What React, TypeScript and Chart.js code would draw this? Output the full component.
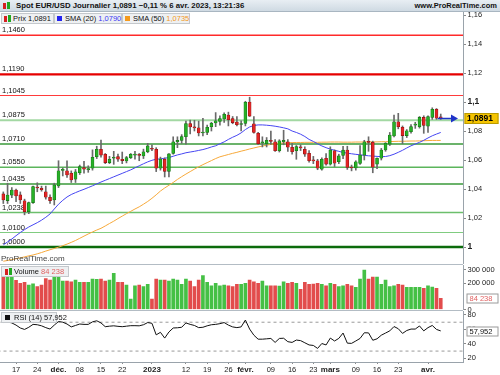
import React, { useEffect, useRef } from "react";
import { Chart, registerables } from "chart.js";

Chart.register(...registerables);

const FONT = '"Liberation Sans", Arial, sans-serif';

// ---------- data ----------
const dates = [
  "14/11","15/11","16/11","17/11","18/11","21/11","22/11","23/11","24/11","25/11","28/11","29/11","30/11",
  "01/12","02/12","05/12","06/12","07/12","08/12","09/12","12/12","13/12","14/12","15/12","16/12","19/12","20/12","21/12","22/12","23/12","26/12","27/12","28/12","29/12","30/12",
  "02/01","03/01","04/01","05/01","06/01","09/01","10/01","11/01","12/01","13/01","16/01","17/01","18/01","19/01","20/01","23/01","24/01","25/01","26/01","27/01","30/01","31/01",
  "01/02","02/02","03/02","06/02","07/02","08/02","09/02","10/02","13/02","14/02","15/02","16/02","17/02","20/02","21/02","22/02","23/02","24/02","27/02","28/02",
  "01/03","02/03","03/03","06/03","07/03","08/03","09/03","10/03","13/03","14/03","15/03","16/03","17/03","20/03","21/03","22/03","23/03","24/03","27/03","28/03","29/03","30/03","31/03",
  "03/04","04/04","05/04","06/04",
];

const opens = [
  1.0366,1.0320,1.0358,1.0393,1.0359,1.0319,1.0243,1.0306,1.0412,1.0405,1.0381,1.0343,1.0324,
  1.0421,1.0528,1.0526,1.0508,1.0467,1.0512,1.0547,1.0534,1.0543,1.0623,1.0674,1.0639,1.0582,1.0612,1.0623,1.0605,1.0593,1.0616,1.0634,1.0637,1.0628,1.0657,
  1.0681,1.0674,1.0543,1.0605,1.0522,1.0646,1.0726,1.0735,1.0761,1.0852,1.0828,1.0822,1.0786,1.0790,1.0830,1.0855,1.0866,1.0883,1.0910,1.0886,1.0862,1.0845,
  1.0853,1.1000,1.0850,1.0784,1.0718,1.0712,1.0736,1.0726,1.0664,1.0726,1.0726,1.0688,1.0664,1.0688,1.0674,1.0646,1.0598,1.0595,1.0536,1.0612,
  1.0572,1.0664,1.0588,1.0632,1.0669,1.0548,1.0545,1.0577,1.0634,1.0725,1.0722,1.0572,1.0612,1.0669,1.0710,1.0766,1.0864,1.0826,1.0768,1.0795,1.0840,1.0830,1.0894,
  1.0834,1.0894,1.0950,1.0897,
];
const highs = [
  1.0380,1.0440,1.0410,1.0400,1.0380,1.0330,1.0310,1.0420,1.0443,1.0420,1.0420,1.0360,1.0440,
  1.0595,1.0545,1.0595,1.0525,1.0535,1.0565,1.0590,1.0560,1.0670,1.0695,1.0738,1.0645,1.0625,1.0660,1.0640,1.0655,1.0625,1.0645,1.0660,1.0645,1.0675,1.0715,
  1.0705,1.0685,1.0620,1.0615,1.0645,1.0760,1.0760,1.0775,1.0868,1.0875,1.0874,1.0868,1.0887,1.0840,1.0860,1.0927,1.0905,1.0925,1.0930,1.0900,1.0900,1.0870,
  1.1005,1.1033,1.0900,1.0790,1.0760,1.0755,1.0800,1.0740,1.0740,1.0805,1.0740,1.0715,1.0700,1.0705,1.0690,1.0665,1.0625,1.0605,1.0615,1.0645,
  1.0691,1.0670,1.0640,1.0695,1.0695,1.0565,1.0595,1.0700,1.0736,1.0760,1.0730,1.0615,1.0680,1.0720,1.0790,1.0910,1.0922,1.0835,1.0810,1.0845,1.0860,1.0900,1.0905,
  1.0905,1.0960,1.0955,1.0917,
];
const lows = [
  1.0300,1.0300,1.0340,1.0312,1.0300,1.0222,1.0230,1.0300,1.0381,1.0385,1.0330,1.0300,1.0290,
  1.0410,1.0490,1.0480,1.0445,1.0445,1.0500,1.0510,1.0515,1.0530,1.0610,1.0620,1.0575,1.0575,1.0570,1.0590,1.0575,1.0580,1.0610,1.0605,1.0595,1.0610,1.0650,
  1.0665,1.0520,1.0530,1.0483,1.0483,1.0640,1.0685,1.0715,1.0710,1.0780,1.0800,1.0766,1.0766,1.0775,1.0800,1.0830,1.0840,1.0860,1.0835,1.0850,1.0835,1.0800,
  1.0835,1.0900,1.0785,1.0706,1.0690,1.0690,1.0708,1.0660,1.0655,1.0705,1.0660,1.0640,1.0605,1.0665,1.0625,1.0585,1.0575,1.0533,1.0530,1.0565,
  1.0565,1.0555,1.0575,1.0610,1.0535,1.0525,1.0530,1.0570,1.0600,1.0660,1.0512,1.0540,1.0600,1.0660,1.0700,1.0760,1.0815,1.0712,1.0755,1.0785,1.0818,1.0820,1.0784,
  1.0790,1.0880,1.0880,1.0880,
];
const closes = [
  1.0324,1.0358,1.0393,1.0352,1.0324,1.0243,1.0306,1.0416,1.0407,1.0395,1.0343,1.0320,1.0428,
  1.0526,1.0532,1.0497,1.0462,1.0519,1.0554,1.0536,1.0538,1.0619,1.0674,1.0634,1.0582,1.0605,1.0618,1.0605,1.0596,1.0616,1.0639,1.0637,1.0632,1.0657,1.0697,
  1.0674,1.0543,1.0607,1.0522,1.0642,1.0726,1.0735,1.0761,1.0852,1.0828,1.0822,1.0786,1.0792,1.0826,1.0853,1.0870,1.0886,1.0915,1.0878,1.0858,1.0843,1.0850,
  1.0998,1.0903,1.0790,1.0712,1.0722,1.0736,1.0728,1.0664,1.0733,1.0735,1.0688,1.0657,1.0692,1.0684,1.0641,1.0595,1.0594,1.0543,1.0605,1.0572,
  1.0669,1.0578,1.0628,1.0668,1.0548,1.0545,1.0588,1.0634,1.0726,1.0722,1.0550,1.0612,1.0669,1.0715,1.0772,1.0864,1.0830,1.0768,1.0802,1.0830,1.0843,1.0894,1.0839,
  1.0899,1.0950,1.0888,1.0891,
];

const sma20 = [
  1.0015,1.0035,1.0055,1.0078,1.0100,1.0120,1.0138,1.0153,1.0168,1.0185,1.0205,1.0228,1.0262,
  1.0295,1.0322,1.0345,1.0362,1.0375,1.0387,1.0398,1.0410,1.0422,1.0435,1.0448,1.0460,1.0472,1.0484,1.0496,1.0508,1.0520,1.0532,1.0546,1.0560,1.0574,1.0587,
  1.0598,1.0605,1.0608,1.0612,1.0617,1.0626,1.0635,1.0642,1.0650,1.0655,1.0660,1.0666,1.0672,1.0680,1.0690,1.0698,1.0712,1.0725,1.0742,1.0757,1.0770,1.0787,
  1.0810,1.0828,1.0838,1.0842,1.0842,1.0840,1.0837,1.0833,1.0828,1.0822,1.0815,1.0800,1.0790,1.0778,1.0762,1.0742,1.0728,1.0712,1.0697,1.0685,
  1.0675,1.0667,1.0660,1.0652,1.0647,1.0643,1.0639,1.0636,1.0632,1.0629,1.0627,1.0625,1.0623,1.0624,1.0630,1.0640,1.0653,1.0667,1.0683,1.0698,1.0710,1.0722,1.0736,
  1.0752,1.0767,1.0779,1.0790,
];
const sma50 = [
  0.9902,0.9907,0.9913,0.9919,0.9925,0.9932,0.9939,0.9945,0.9953,0.9962,0.9972,0.9981,0.9990,
  0.9999,1.0009,1.0020,1.0032,1.0045,1.0060,1.0075,1.0090,1.0104,1.0117,1.0129,1.0145,1.0162,1.0178,1.0196,1.0213,1.0230,1.0246,1.0262,1.0277,1.0295,1.0314,
  1.0336,1.0360,1.0386,1.0407,1.0426,1.0445,1.0466,1.0485,1.0503,1.0520,1.0537,1.0553,1.0568,1.0582,1.0596,1.0610,1.0622,1.0630,1.0638,1.0646,1.0653,1.0661,
  1.0668,1.0676,1.0683,1.0690,1.0696,1.0702,1.0708,1.0712,1.0715,1.0717,1.0719,1.0720,1.0721,1.0721,1.0722,1.0722,1.0722,1.0722,1.0723,1.0723,
  1.0724,1.0724,1.0724,1.0723,1.0723,1.0723,1.0724,1.0724,1.0724,1.0725,1.0725,1.0725,1.0726,1.0726,1.0727,1.0728,1.0729,1.0729,1.0730,1.0731,1.0731,1.0732,1.0733,
  1.0734,1.0735,1.0735,1.0735,
];

const volumes = [
  248000,256000,248000,220000,198000,205000,185000,195000,173000,185000,235000,223000,256000,
  256000,216000,216000,210000,223000,206000,206000,206000,231000,228000,231000,216000,223000,274000,206000,206000,185000,79000,180000,185000,173000,190000,
  79000,231000,223000,223000,216000,231000,223000,190000,231000,216000,173000,223000,256000,206000,180000,198000,180000,185000,180000,173000,190000,190000,
  198000,223000,210000,198000,216000,180000,180000,180000,178000,210000,198000,206000,198000,153000,206000,190000,192000,198000,190000,180000,
  198000,190000,173000,180000,190000,180000,168000,231000,299000,231000,246000,246000,190000,223000,173000,180000,190000,185000,168000,168000,168000,168000,160000,
  180000,170000,160000,84238,
];

const rsi = [
  69.5,70.5,69,66,62,60,63,67,66.5,65,62.5,60.5,66,
  71,70,67.5,63.5,65.5,67.5,67,67,70.5,72,69,63.8,64.5,65,64.3,63.8,64.5,65.2,65.2,65,66.5,69.5,
  68.5,52.5,56,48,56.5,62,62.3,63,69,67,65.5,62.5,63,65,66.5,67,68,69.5,66,63.5,62.5,63.5,
  73,60.5,52,46.5,46.5,47,47.5,42,47.5,47.8,43,42,45.3,44.5,41.5,38.5,37.8,33.7,40.5,38.5,
  48,44,47.6,55,41,40.7,44,47.5,55.4,55.2,45,47,52,55,58,64,61,54.5,58.5,60.5,60.5,64.8,58,
  62.5,65.5,60,57.952,
];

const levelValues = [1.146, 1.119, 1.1045, 1.0875, 1.071, 1.055, 1.0435, 1.0238, 1.01, 1.0];
const levelColors = ["#ff2a2a", "#e60000", "#ff3b3b", "#a3d8a3", "#3a9a3a", "#5cb55c", "#3a9a3a", "#6cbf6c", "#80cc80", "#0b6b0b"];
const levelWidths = [1.5, 2.2, 1.2, 2, 1.5, 1.5, 1.5, 1.4, 1.2, 2.6];

const priceTicks = [1.0, 1.02, 1.04, 1.06, 1.08, 1.1, 1.12, 1.14, 1.16];
const volumeTicks = [0, 200000, 300000];
const rsiTicks = [20, 40, 60, 80];
const rsiLevels = [70, 30];

const xTickDates = ["17/11","24/11","01/12","08/12","15/12","22/12","02/01","12/01","19/01","26/01","01/02","09/02","16/02","23/02","01/03","09/03","16/03","23/03","03/04"];
const xTickLabels = ["17","24","déc.","08","15","22","2023","12","19","26","févr.","09","16","23","mars","09","16","23","avr."];
const xBoldLabels = ["déc.", "2023", "févr.", "mars", "avr."];

const titleText = "Spot EUR/USD Journalier";
const changeText = "−0,11 % 6 avr. 2023, 13:21:36";

// ---------- helpers ----------
const X_MIN = -0.78;
const X_MAX = 108.24;
const idx = dates.map((_, i) => i);
const isUp = (i: number) => closes[i] >= opens[i];
const fmt4 = (v: number) => v.toFixed(4).replace(".", ",");
const fmtVol = (v: number) => Math.round(v).toString().replace(/\B(?=(\d{3})+(?!\d))/g, " ");
const fmtPriceTick = (v: number) => {
  if (Math.abs(v - 1) < 1e-9) return "1";
  if (Math.abs(v - 1.1) < 1e-9) return "1,1";
  return v.toFixed(2).replace(".", ",");
};
const tickIdx = xTickDates.map((d) => dates.indexOf(d));
const last = dates.length - 1;

const UP = "#27b027", UP_B = "#137013", DN = "#e32424", DN_B = "#8a1010";
const VUP = "#45c045", VDN = "#e24c4c";

const zeroPad = (s: any) => {
  s.paddingTop = 0;
  s.paddingBottom = 0;
  s.paddingLeft = 0;
  s.paddingRight = 0;
};

export default function App() {
  const priceRef = useRef<HTMLCanvasElement>(null);
  const volRef = useRef<HTMLCanvasElement>(null);
  const rsiRef = useRef<HTMLCanvasElement>(null);

  useEffect(() => {
    Chart.defaults.font.family = FONT;
    const charts: Chart[] = [];

    const hiddenX = {
      type: "linear" as const,
      min: X_MIN,
      max: X_MAX,
      display: false,
      offset: false,
      grid: { offset: false },
    };

    // ----- price chart -----
    const priceOverlay = {
      id: "priceOverlay",
      beforeDatasetsDraw(chart: any) {
        const { ctx, chartArea, scales } = chart;
        ctx.save();
        ctx.font = `7.5px ${FONT}`;
        ctx.fillStyle = "#111";
        ctx.textBaseline = "bottom";
        ctx.textAlign = "left";
        levelValues.forEach((lv, k) => {
          const y = scales.y.getPixelForValue(lv);
          ctx.fillText(fmt4(lv), chartArea.left + 2, y - levelWidths[k] / 2 - 0.5);
        });
        ctx.restore();
      },
      afterDraw(chart: any) {
        const { ctx, chartArea, scales } = chart;
        const y = Math.round(scales.y.getPixelForValue(closes[last])) + 0.5;
        const x0 = scales.x.getPixelForValue(last) - 3;
        const tip = chartArea.right - 5;
        ctx.save();
        ctx.strokeStyle = "#1f33c8";
        ctx.fillStyle = "#1f33c8";
        ctx.lineWidth = 1.5;
        ctx.beginPath();
        ctx.moveTo(x0, y);
        ctx.lineTo(tip - 5, y);
        ctx.stroke();
        ctx.beginPath();
        ctx.moveTo(tip, y);
        ctx.lineTo(tip - 7, y - 4);
        ctx.lineTo(tip - 7, y + 4);
        ctx.closePath();
        ctx.fill();
        const bx = chartArea.right + 1.5;
        const bw = 34;
        const bh = 11;
        ctx.fillStyle = "#f5c400";
        ctx.fillRect(bx, y - bh / 2, bw, bh);
        ctx.strokeStyle = "#b99a00";
        ctx.lineWidth = 1;
        ctx.strokeRect(bx + 0.5, y - bh / 2 + 0.5, bw - 1, bh - 1);
        ctx.fillStyle = "#000";
        ctx.font = `bold 8.5px ${FONT}`;
        ctx.textBaseline = "middle";
        ctx.textAlign = "left";
        ctx.fillText(fmt4(closes[last]), bx + 2.5, y + 0.5);
        ctx.restore();
      },
    };

    const pc = new Chart(priceRef.current!, {
      type: "bar",
      data: {
        datasets: [
          {
            type: "bar",
            label: "corps",
            data: idx.map((i) => ({ x: i, y: [opens[i], closes[i]] })) as any,
            backgroundColor: idx.map((i) => (isUp(i) ? UP : DN)),
            borderColor: idx.map((i) => (isUp(i) ? UP_B : DN_B)),
            borderWidth: 0.6,
            borderSkipped: false,
            barThickness: 3,
            minBarLength: 1,
            grouped: false,
            order: 0,
          } as any,
          {
            type: "bar",
            label: "mèches",
            data: idx.map((i) => ({ x: i, y: [lows[i], highs[i]] })) as any,
            backgroundColor: "#6a6a6a",
            barThickness: 1,
            grouped: false,
            order: 1,
          } as any,
          {
            type: "line",
            label: "SMA (20)",
            data: idx.map((i) => ({ x: i, y: sma20[i] })),
            borderColor: "#4646f2",
            borderWidth: 1,
            pointRadius: 0,
            tension: 0,
            order: 2,
          } as any,
          {
            type: "line",
            label: "SMA (50)",
            data: idx.map((i) => ({ x: i, y: sma50[i] })),
            borderColor: "#f7a93a",
            borderWidth: 1,
            pointRadius: 0,
            tension: 0,
            order: 3,
          } as any,
          ...levelValues.map((lv, k) => ({
            type: "line",
            label: "niveau " + lv,
            data: [
              { x: X_MIN - 2, y: lv },
              { x: X_MAX + 2, y: lv },
            ],
            borderColor: levelColors[k],
            borderWidth: levelWidths[k],
            pointRadius: 0,
            order: 10,
          })) as any,
        ],
      },
      options: {
        animation: false,
        responsive: false,
        maintainAspectRatio: false,
        devicePixelRatio: 1,
        layout: { padding: 0, autoPadding: false } as any,
        plugins: { legend: { display: false }, tooltip: { enabled: false } },
        scales: {
          x: hiddenX as any,
          y: {
            position: "right",
            min: 0.98828,
            max: 1.16207,
            afterFit: (s: any) => {
              s.width = 37;
              zeroPad(s);
            },
            afterBuildTicks: (s: any) => {
              s.ticks = priceTicks.map((v) => ({ value: v }));
            },
            grid: { drawOnChartArea: false, tickLength: 3, tickColor: "#8a8a8a" },
            border: { color: "#9aa3ab" },
            ticks: {
              padding: 1.5,
              color: "#222",
              autoSkip: false,
              font: (c: any) => {
                const v = c.tick ? c.tick.value : 0;
                const bold = Math.abs(v - 1) < 1e-9 || Math.abs(v - 1.1) < 1e-9;
                return bold ? { family: FONT, size: 8.5, weight: "bold" } : { family: FONT, size: 7.5 };
              },
              callback: (v: any) => fmtPriceTick(Number(v)),
            },
          } as any,
        },
      },
      plugins: [priceOverlay],
    });
    charts.push(pc);

    // ----- volume chart -----
    const volOverlay = {
      id: "volOverlay",
      afterDraw(chart: any) {
        const { ctx, chartArea, scales } = chart;
        const y = Math.round(scales.y.getPixelForValue(volumes[last])) + 0.5;
        const bx = chartArea.right + 3.5;
        const bw = 32;
        const bh = 10;
        ctx.save();
        ctx.fillStyle = "#fff";
        ctx.fillRect(bx, y - bh / 2, bw, bh);
        ctx.strokeStyle = "#9a9a9a";
        ctx.lineWidth = 1;
        ctx.strokeRect(bx + 0.5, y - bh / 2 + 0.5, bw - 1, bh - 1);
        ctx.fillStyle = "#e06262";
        ctx.font = `7.5px ${FONT}`;
        ctx.textBaseline = "middle";
        ctx.fillText(fmtVol(volumes[last]), bx + 3, y + 0.5);
        ctx.restore();
      },
    };

    const vc = new Chart(volRef.current!, {
      type: "bar",
      data: {
        datasets: [
          {
            type: "bar",
            label: "Volume",
            data: idx.map((i) => ({ x: i, y: volumes[i] })) as any,
            backgroundColor: idx.map((i) => (isUp(i) ? VUP : VDN)),
            barThickness: 3,
            grouped: false,
          } as any,
        ],
      },
      options: {
        animation: false,
        responsive: false,
        maintainAspectRatio: false,
        devicePixelRatio: 1,
        layout: { padding: { top: 0, left: 0, right: 0, bottom: 5.5 }, autoPadding: false } as any,
        plugins: { legend: { display: false }, tooltip: { enabled: false } },
        scales: {
          x: hiddenX as any,
          y: {
            position: "right",
            min: 0,
            max: 337000,
            afterFit: (s: any) => {
              s.width = 37;
              zeroPad(s);
            },
            afterBuildTicks: (s: any) => {
              s.ticks = volumeTicks.map((v) => ({ value: v }));
            },
            grid: { drawOnChartArea: false, tickLength: 3, tickColor: "#8a8a8a" },
            border: { color: "#9aa3ab" },
            ticks: {
              padding: 1.5,
              color: "#222",
              autoSkip: false,
              font: { family: FONT, size: 7.5 },
              callback: (v: any) => fmtVol(Number(v)),
            },
          } as any,
        },
      },
      plugins: [volOverlay],
    });
    charts.push(vc);

    // ----- RSI chart -----
    const rsiOverlay = {
      id: "rsiOverlay",
      afterDraw(chart: any) {
        const { ctx, chartArea, scales } = chart;
        const y = Math.round(scales.y.getPixelForValue(rsi[last])) + 0.5;
        const bx = chartArea.right + 3.5;
        const bw = 32;
        const bh = 10;
        ctx.save();
        ctx.fillStyle = "#fff";
        ctx.fillRect(bx, y - bh / 2, bw, bh);
        ctx.strokeStyle = "#9a9a9a";
        ctx.lineWidth = 1;
        ctx.strokeRect(bx + 0.5, y - bh / 2 + 0.5, bw - 1, bh - 1);
        ctx.fillStyle = "#111";
        ctx.font = `7.5px ${FONT}`;
        ctx.textBaseline = "middle";
        ctx.fillText(rsi[last].toFixed(3).replace(".", ","), bx + 3, y + 0.5);
        ctx.restore();
      },
    };

    const rc = new Chart(rsiRef.current!, {
      type: "line",
      data: {
        datasets: [
          {
            label: "RSI (14)",
            data: idx.map((i) => ({ x: i, y: rsi[i] })),
            borderColor: "#111",
            borderWidth: 1,
            pointRadius: 0,
            tension: 0,
            order: 0,
          },
          ...rsiLevels.map((lv) => ({
            label: "niveau " + lv,
            data: [
              { x: X_MIN - 2, y: lv },
              { x: X_MAX + 2, y: lv },
            ],
            borderColor: "#9a9a9a",
            borderWidth: 1,
            borderDash: [3, 3],
            pointRadius: 0,
            order: 5,
          })),
        ] as any,
      },
      options: {
        animation: false,
        responsive: false,
        maintainAspectRatio: false,
        devicePixelRatio: 1,
        layout: { padding: 0, autoPadding: false } as any,
        plugins: { legend: { display: false }, tooltip: { enabled: false } },
        scales: {
          x: {
            type: "linear",
            min: X_MIN,
            max: X_MAX,
            offset: false,
            afterFit: (s: any) => {
              s.height = 13;
              zeroPad(s);
            },
            afterBuildTicks: (s: any) => {
              s.ticks = tickIdx.map((v) => ({ value: v }));
            },
            grid: { drawOnChartArea: false, tickLength: 2, tickColor: "#8a8a8a" },
            border: { color: "#9aa3ab" },
            ticks: {
              autoSkip: false,
              maxRotation: 0,
              minRotation: 0,
              padding: 1,
              color: "#222",
              font: (c: any) => {
                const k = c.tick ? tickIdx.indexOf(c.tick.value) : -1;
                const bold = k >= 0 && xBoldLabels.includes(xTickLabels[k]);
                return bold ? { family: FONT, size: 8, weight: "bold" } : { family: FONT, size: 7.5 };
              },
              callback: (v: any) => {
                const k = tickIdx.indexOf(Number(v));
                return k >= 0 ? xTickLabels[k] : "";
              },
            },
          } as any,
          y: {
            position: "right",
            min: 14.87,
            max: 85.54,
            afterFit: (s: any) => {
              s.width = 37;
              zeroPad(s);
            },
            afterBuildTicks: (s: any) => {
              s.ticks = rsiTicks.map((v) => ({ value: v }));
            },
            grid: { drawOnChartArea: false, tickLength: 3, tickColor: "#8a8a8a" },
            border: { color: "#9aa3ab" },
            ticks: {
              padding: 1.5,
              color: "#222",
              autoSkip: false,
              font: { family: FONT, size: 7.5 },
            },
          } as any,
        },
      },
      plugins: [rsiOverlay],
    });
    charts.push(rc);

    return () => charts.forEach((c) => c.destroy());
  }, []);

  const box: React.CSSProperties = {
    position: "absolute",
    height: 9,
    background: "#eef0f2",
    border: "1px solid #c4c8cc",
    fontSize: 7.5,
    lineHeight: "9px",
    whiteSpace: "nowrap",
    color: "#111",
  };
  const candleIcon = (left: number, top: number) => (
    <span style={{ position: "absolute", left, top, width: 7, height: 7 }}>
      <span style={{ position: "absolute", left: 0, top: 1, width: 3, height: 6, background: "#d62020" }} />
      <span style={{ position: "absolute", left: 4, top: 0, width: 3, height: 7, background: "#22a822" }} />
    </span>
  );

  return (
    <div
      style={{
        position: "fixed",
        left: 0,
        top: 0,
        width: 500,
        height: 375,
        background: "#fff",
        overflow: "hidden",
        fontFamily: FONT,
      }}
    >
      <canvas ref={priceRef} width={500} height={252} style={{ position: "absolute", left: 0, top: 12, display: "block" }} />
      <canvas ref={volRef} width={500} height={50} style={{ position: "absolute", left: 0, top: 265, display: "block" }} />
      <canvas ref={rsiRef} width={500} height={64} style={{ position: "absolute", left: 0, top: 311, display: "block" }} />

      <div style={{ position: "absolute", left: 0, top: 264, width: 463, height: 1, background: "#b3bcc4" }} />
      <div style={{ position: "absolute", left: 0, top: 310, width: 463, height: 1, background: "#b3bcc4" }} />

      <div
        style={{
          position: "absolute",
          left: 0,
          top: 0,
          width: 500,
          height: 11,
          background: "linear-gradient(#e8eef3, #cfdae3)",
          borderBottom: "1px solid #a9b6c1",
        }}
      >
        {candleIcon(3, 2)}
        <span style={{ position: "absolute", left: 16, top: 0, fontSize: 7.8, fontWeight: "bold", lineHeight: "11px", whiteSpace: "nowrap", color: "#111" }}>
          {titleText} {fmt4(closes[last])} {changeText}
        </span>
        <span style={{ position: "absolute", right: 3, top: 0, fontSize: 7.5, fontWeight: "bold", lineHeight: "11px", whiteSpace: "nowrap", color: "#111" }}>
          www.ProRealTime.com
        </span>
      </div>

      <div style={{ ...box, left: 1, top: 13, width: 51 }}>
        {candleIcon(2, 1)}
        <span style={{ position: "absolute", left: 11, top: 0 }}>Prix {fmt4(closes[last])}</span>
      </div>
      <div style={{ ...box, left: 54, top: 13, width: 66 }}>
        <span style={{ position: "absolute", left: 2, top: 2, width: 5, height: 5, background: "#2323f0" }} />
        <span style={{ position: "absolute", left: 10, top: 0 }}>
          SMA (20) <span style={{ color: "#3a3af2" }}>{fmt4(sma20[last])}</span>
        </span>
      </div>
      <div style={{ ...box, left: 122, top: 13, width: 66 }}>
        <span style={{ position: "absolute", left: 2, top: 2, width: 5, height: 5, background: "#f59a1c" }} />
        <span style={{ position: "absolute", left: 10, top: 0 }}>
          SMA (50) <span style={{ color: "#f29a1f" }}>{fmt4(sma50[last])}</span>
        </span>
      </div>

      <div style={{ position: "absolute", left: 1, top: 254, fontSize: 8, lineHeight: "9px", color: "#444", whiteSpace: "nowrap" }}>
        ProRealTime.com
      </div>

      <div style={{ ...box, left: 1, top: 266, width: 66 }}>
        {candleIcon(3, 1)}
        <span style={{ position: "absolute", left: 12, top: 0 }}>
          Volume <span style={{ color: "#e06262" }}>{fmtVol(volumes[last])}</span>
        </span>
      </div>

      <div style={{ ...box, left: 1, top: 312, width: 54 }}>
        <span style={{ position: "absolute", left: 3, top: 2, width: 5, height: 5, background: "#111" }} />
        <span style={{ position: "absolute", left: 12, top: 0 }}>RSI (14) {rsi[last].toFixed(3).replace(".", ",")}</span>
      </div>
    </div>
  );
}
